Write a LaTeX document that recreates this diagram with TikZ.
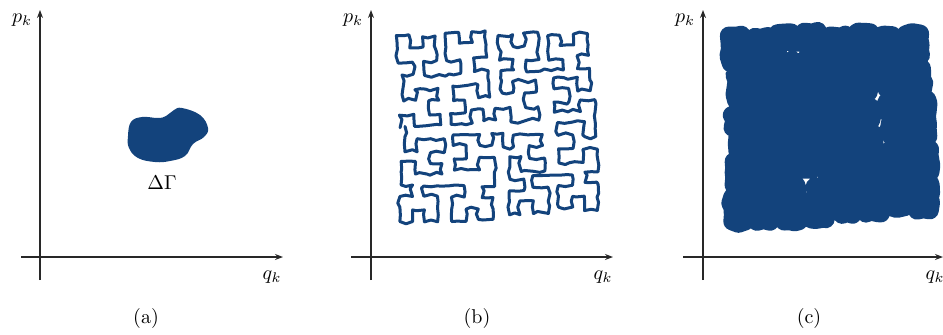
\documentclass[tikz,border=0pt]{standalone}
\definecolor{phaseblue}{RGB}{19, 67, 124}
\definecolor{axisgray}{RGB}{40, 40, 40}
\usetikzlibrary{arrows.meta, lindenmayersystems, decorations.pathmorphing}
\pgfdeclarelindenmayersystem{Moore}{
	\rule{L -> -RF+LFL+FR-}
	\rule{R -> +LF-RFR-FL+}
}
\tikzset{
	axis/.style={-{Stealth[length=4pt, width=3pt]}, line width=0.6pt, draw=axisgray},
	blob/.style={fill=phaseblue, draw=none},
	wiggle/.style={decoration={random steps, segment length=3pt, amplitude=1.2pt}, decorate},
	filament/.style={draw=phaseblue, line join=round, line cap=round, wiggle,
		lindenmayer system={Moore, axiom=LFL+F+LFL, order=3, step=6.3pt, angle=90,
			randomize step percent=25, randomize angle percent=3}},
	lbl/.style={anchor=base, inner sep=0pt},
}

\begin{document}
\begin{tikzpicture}[x=0.5pt, y=0.5pt]
	\useasboundingbox (0,0) rectangle (943,334);
	% (a) initial region
	\draw[axis] (21,77) -- (283,77) coordinate (qa);
	\draw[axis] (40,54) -- (40,324) coordinate (pa);
	\node[lbl] (pla) at (22,312) {$p_k$};
	\node[lbl] (qla) at (272,55) {$q_k$};
	\node[lbl] (capa) at (146,11) {(a)};
	\fill[blob] plot[smooth cycle, tension=0.7] coordinates {(128,198) (131,212) (142,217) (158,216) (166,218) (174,224) (182,226) (200,219) (208,206) (204,197) (193,190) (185,178) (170,173) (155,172) (138,176) (129,186)};
	\node[lbl] (dgam) at (162,145) {$\Delta\Gamma$};
	% (b) filamented region
	\draw[axis] (351,77) -- (613,77) coordinate (qb);
	\draw[axis] (371,54) -- (371,324) coordinate (pb);
	\node[lbl] (plb) at (353,312) {$p_k$};
	\node[lbl] (qlb) at (603,55) {$q_k$};
	\node[lbl] (capb) at (477,11) {(b)};
	% (c) coarse-grained region
	\draw[axis] (683,77) -- (943,77) coordinate (qc);
	\draw[axis] (703,54) -- (703,324) coordinate (pc);
	\node[lbl] (plc) at (685,312) {$p_k$};
	\node[lbl] (qlc) at (935,55) {$q_k$};
	\node[lbl] (capc) at (809,11) {(c)};
	% the same curve, thin in (b) and smeared in (c)
	\pgfmathsetseed{4242}
	\draw[filament, line width=1.5pt, transform canvas={shift={(202.5pt,97.5pt)}},
		postaction={draw=phaseblue, line width=9pt, line join=round, wiggle, transform canvas={xshift=166.25pt}}]
		(0,12.6) lindenmayer system;
\end{tikzpicture}
\end{document}
